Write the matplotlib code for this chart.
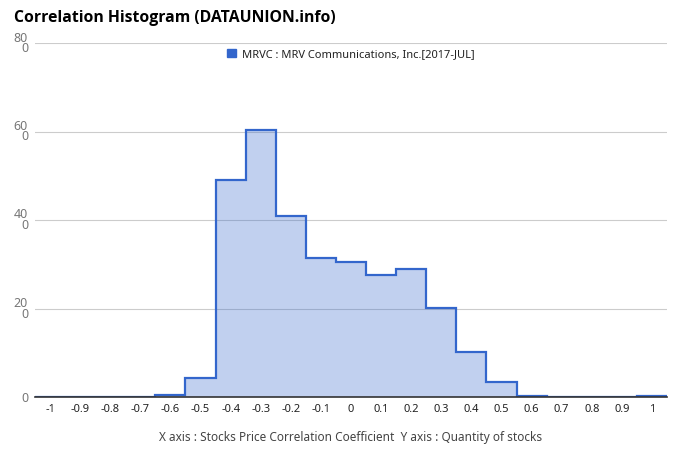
import matplotlib.pyplot as plt
import numpy as np
from matplotlib.patches import Patch

plt.rcParams['font.family'] = ['Noto Sans', 'DejaVu Sans']

# bin centres and counts
centers = [-1, -0.9, -0.8, -0.7, -0.6, -0.5, -0.4, -0.3, -0.2, -0.1, 0,
           0.1, 0.2, 0.3, 0.4, 0.5, 0.6, 0.7, 0.8, 0.9, 1]
counts = [1, 0, 0, 0, 4, 43, 491, 604, 409, 315, 305,
          275, 289, 201, 101, 35, 3, 0, 0, 0, 2]
xticks = [-1, -0.9, -0.8, -0.7, -0.6, -0.5, -0.4, -0.3, -0.2, -0.1, 0,
          0.1, 0.2, 0.3, 0.4, 0.5, 0.6, 0.7, 0.8, 0.9, 1]
xlabels = ['-1', '-0.9', '-0.8', '-0.7', '-0.6', '-0.5', '-0.4', '-0.3', '-0.2', '-0.1', '0',
           '0.1', '0.2', '0.3', '0.4', '0.5', '0.6', '0.7', '0.8', '0.9', '1']
yticks = [0, 200, 400, 600, 800]
ylabels = ['0', '20\n0', '40\n0', '60\n0', '80\n0']
series = 'MRVC : MRV Communications, Inc.[2017-JUL]'

blue = '#3366cc'
edges = np.append(np.array(centers) - 0.05, centers[-1] + 0.05)

fig = plt.figure(figsize=(6.8, 4.62), dpi=100)
ax = fig.add_axes([35/680, 1 - 397/462, 632/680, 354/462])

ax.stairs(counts, edges, fill=True, color=blue, alpha=0.3, linewidth=0)
ax.stairs(counts, edges, color=blue, linewidth=1.6, baseline=None)

ax.set_xlim(-1.05, 1.05)
ax.set_ylim(0, 800)
ax.set_yticks(yticks)
ax.set_yticklabels(ylabels)
ax.set_xticks(xticks)
ax.set_xticklabels(xlabels)
for lab in ax.get_yticklabels():
    lab.set_linespacing(0.75)
    lab.set_multialignment('right')
ax.tick_params(axis='y', length=0, pad=5, labelsize=9, labelcolor='#777777')
ax.tick_params(axis='x', length=0, pad=5, labelsize=8, labelcolor='#222222')

ax.grid(axis='y', color='#cccccc', linewidth=0.8)
ax.set_axisbelow(True)
for s in ['top', 'right', 'left']:
    ax.spines[s].set_visible(False)
ax.spines['bottom'].set_color('#333333')
ax.spines['bottom'].set_linewidth(1.2)
ax.spines['bottom'].set_zorder(5)

ax.legend(handles=[Patch(color=blue, label=series)], loc='upper center',
          bbox_to_anchor=(0.5, 1.0), frameon=False, fontsize=8,
          handlelength=0.8, handleheight=0.8, handletextpad=0.6,
          labelcolor='#222222', borderaxespad=0.1)

fig.text(14/680, 1 - 18/462, 'Correlation Histogram (DATAUNION.info)',
         fontsize=11.3, fontweight='bold', family=['Open Sans', 'DejaVu Sans'],
         va='center', ha='left', color='#000000')
fig.text(351/680, 1 - 437/462,
         'X axis : Stocks Price Correlation Coefficient  Y axis : Quantity of stocks',
         fontsize=8.5, ha='center', va='center', color='#444444')

fig.savefig('out.png', dpi=100)
